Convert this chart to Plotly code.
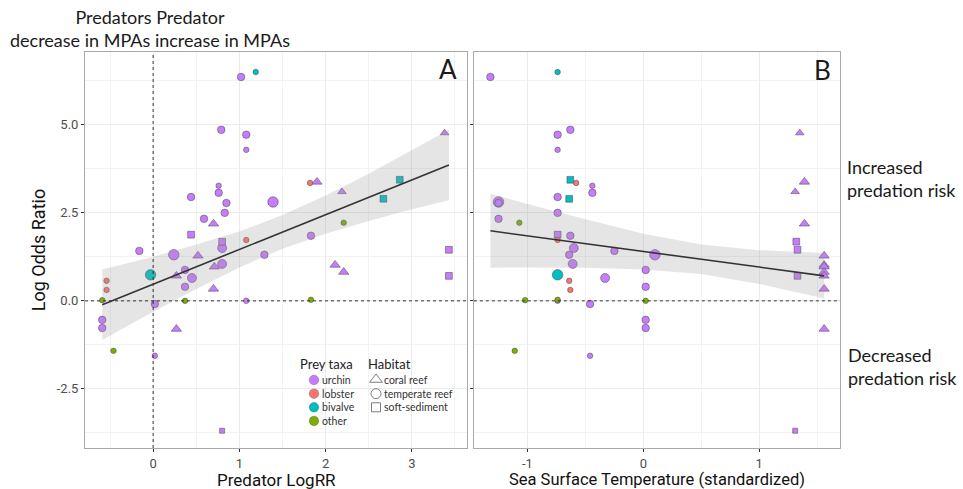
import plotly.graph_objects as go

# ---------------- data ----------------
pred_logrr = [1.02, 1.19, 0.79, 1.08, 1.08, 0.76, 0.76, 0.44, 0.85, 1.39, 0.83, 0.59,
              1.82, 2.21, 1.83, 1.08, 0.80, -0.16, 0.24, 1.29, 0.80, 0.37, 0.45, -0.03,
              -0.54, -0.54, 0.37, -0.59, 0.02, 0.37, 1.08, 1.83, -0.59, -0.59, -0.46, 0.02,
              3.38, 1.90, 2.19, 0.70, 0.52, 2.11, 0.71, 2.21, 0.27, 0.70, 0.27,
              0.44, 0.80, 3.43, 3.43, 0.80, 2.86, 2.67]
sst_std = [-1.32, -0.74, -0.63, -0.74, -0.74, -0.44, -0.44, -0.74, -1.25, -1.25, -0.74, -1.25,
           -0.58, -1.07, -0.63, -0.74, -0.60, -0.25, 0.10, -0.64, -0.61, 0.02, -0.33, -0.74,
           -0.64, -0.63, 0.02, -1.02, -0.46, 0.02, -0.74, -0.74, 0.02, 0.02, -1.11, -0.46,
           1.35, 1.39, 1.31, 1.39, 1.56, 1.56, 1.56, 1.56, 1.56, 1.56, 1.56,
           -0.74, 1.32, 1.33, 1.33, 1.31, -0.63, -0.64]
log_odds = [6.36, 6.50, 4.86, 4.72, 4.29, 3.27, 3.07, 2.95, 2.78, 2.81, 2.50, 2.33,
            3.35, 2.22, 1.85, 1.73, 1.50, 1.42, 1.31, 1.31, 1.05, 0.88, 0.65, 0.74,
            0.57, 0.31, 0.40, 0.02, -0.09, 0.00, 0.00, 0.03, -0.54, -0.77, -1.42, -1.56,
            4.77, 3.38, 3.10, 2.19, 1.28, 1.02, 0.97, 0.82, 0.71, 0.34, -0.80,
            1.88, 1.68, 1.45, 0.71, -3.69, 3.44, 2.90]
prey_taxa = (["urchin", "bivalve"] + ["urchin"] * 10 +
             ["lobster", "other", "urchin", "lobster"] + ["urchin"] * 7 + ["bivalve"] +
             ["lobster", "lobster", "urchin", "other", "urchin", "other", "urchin", "other",
              "urchin", "urchin", "other", "urchin"] +
             ["urchin"] * 11 +
             ["urchin"] * 5 + ["bivalve", "bivalve"])
habitat = ["temperate reef"] * 36 + ["coral reef"] * 11 + ["soft-sediment"] * 7
weight = [2, 1, 2, 2, 1, 1, 2, 2, 2, 4, 2, 2,
          1, 1, 2, 1, 3, 2, 4, 2, 3, 2, 3, 4,
          1, 1, 2, 1, 2, 1, 1, 1, 2, 2, 1, 1,
          2, 3, 2, 3, 3, 3, 3, 3, 3, 3, 3,
          2, 2, 2, 2, 1, 2, 2]

# fitted lines with 95% bands
fitA_x = [-0.59, 0.0, 0.5, 1.0, 1.5, 2.0, 2.5, 3.0, 3.43]
fitA_y = [-0.11, 0.47, 0.97, 1.46, 1.96, 2.45, 2.94, 3.44, 3.86]
fitA_lo = [-1.11, -0.31, 0.34, 0.95, 1.48, 1.91, 2.27, 2.60, 2.86]
fitA_hi = [0.89, 1.25, 1.60, 1.97, 2.44, 2.99, 3.61, 4.28, 4.86]

fitB_x = [-1.32, -1.0, -0.5, 0.0, 0.5, 1.0, 1.56]
fitB_y = [1.99, 1.85, 1.63, 1.40, 1.18, 0.96, 0.71]
fitB_lo = [0.94, 0.95, 0.94, 0.89, 0.76, 0.48, 0.07]
fitB_hi = [3.04, 2.75, 2.32, 1.91, 1.60, 1.44, 1.36]

taxa_levels = ["urchin", "lobster", "bivalve", "other"]
habitat_levels = ["coral reef", "temperate reef", "soft-sediment"]
xA_ticks = [0, 1, 2, 3]
xB_ticks = [-1, 0, 1]
xB_tick_labels = ["-1", "0", "1"]
y_ticks = [-2.5, 0.0, 2.5, 5.0]
y_tick_labels = ["-2.5", "0.0", "2.5", "5.0"]

# ---------------- styling ----------------
W, H = 963, 489
ML, MR, MT, MB = 85, 123, 52, 41
taxa_color = {"urchin": "#C77CFF", "lobster": "#F8766D", "bivalve": "#00BFC4", "other": "#7CAE00"}
hab_symbol = {"coral reef": "triangle-up", "temperate reef": "circle", "soft-sediment": "square"}
hab_scale = {"coral reef": 1.0, "temperate reef": 1.0, "soft-sediment": 0.9}
size_px = {1: 5.5, 2: 7.5, 3: 9.0, 4: 10.5}
NARROW = "Roboto, Liberation Sans, sans-serif"
HUMAN = "Lato, Open Sans, sans-serif"


def px_to_paper(px, py):
    return (px - ML) / (W - ML - MR), (H - MB - py) / (H - MT - MB)


order = sorted(range(len(log_odds)), key=lambda i: -weight[i])
colors = [taxa_color[prey_taxa[i]] for i in order]
symbols = [hab_symbol[habitat[i]] for i in order]
sizes = [size_px[weight[i]] * hab_scale[habitat[i]] for i in order]
yy = [log_odds[i] for i in order]

fig = go.Figure()
marker = dict(color=colors, symbol=symbols, size=sizes,
              line=dict(color="rgba(70,70,70,0.75)", width=0.7), opacity=1)
fig.add_trace(go.Scatter(x=[pred_logrr[i] for i in order], y=yy, mode="markers",
                         marker=marker, xaxis="x", yaxis="y", showlegend=False, hoverinfo="skip"))
fig.add_trace(go.Scatter(x=[sst_std[i] for i in order], y=yy, mode="markers",
                         marker=marker, xaxis="x2", yaxis="y2", showlegend=False, hoverinfo="skip"))

band_fill = "rgba(153,153,153,0.25)"
for fx, fy, lo, hi, xa, ya in [(fitA_x, fitA_y, fitA_lo, fitA_hi, "x", "y"),
                               (fitB_x, fitB_y, fitB_lo, fitB_hi, "x2", "y2")]:
    fig.add_trace(go.Scatter(x=fx + fx[::-1], y=hi + lo[::-1], fill="toself",
                             fillcolor=band_fill, line=dict(width=0), mode="lines",
                             xaxis=xa, yaxis=ya, showlegend=False, hoverinfo="skip"))
    fig.add_trace(go.Scatter(x=fx, y=fy, mode="lines", line=dict(color="#333333", width=1.6),
                             xaxis=xa, yaxis=ya, showlegend=False, hoverinfo="skip"))

# legend (drawn on a hidden pixel-space axis)
LEG_FS = 10.5
LEG_STEP = LEG_FS * 1.3
LEG_TOP = 380
leg_x_taxa, leg_x_hab = 314, 376
leg_rows = [LEG_TOP + k * LEG_STEP for k in range(4)]
fig.add_trace(go.Scatter(x=[leg_x_taxa] * 4, y=leg_rows, mode="markers",
                         marker=dict(color=[taxa_color[t] for t in taxa_levels], size=9.5,
                                     line=dict(color="rgba(70,70,70,0.6)", width=0.6)),
                         xaxis="x3", yaxis="y3", showlegend=False, hoverinfo="skip"))
fig.add_trace(go.Scatter(x=[leg_x_hab] * 3, y=[leg_rows[0] - 0.5, leg_rows[1], leg_rows[2]],
                         mode="markers",
                         marker=dict(color="#333333",
                                     symbol=[hab_symbol[h] + "-open" for h in habitat_levels],
                                     size=[11, 10, 9], line=dict(color="#333333", width=0.9)),
                         xaxis="x3", yaxis="y3", showlegend=False, hoverinfo="skip"))

annotations = []


def add_text(txt, px0, py0, size, xanchor="left", yanchor="middle", align="left",
             family=HUMAN, color="#1a1a1a"):
    px, py = px_to_paper(px0, py0)
    annotations.append(dict(x=px, y=py, xref="paper", yref="paper", text=txt, showarrow=False,
                            xanchor=xanchor, yanchor=yanchor, align=align,
                            font=dict(family=family, size=size, color=color)))


add_text("<br>".join(taxa_levels), leg_x_taxa + 6, LEG_TOP + 1.5 * LEG_STEP, LEG_FS, color="#333333")
add_text("<br>".join(habitat_levels), leg_x_hab + 6, LEG_TOP + 1.0 * LEG_STEP, LEG_FS, color="#333333")
add_text("Prey taxa", 298, 364, 13, color="#222222")
add_text("Habitat", 366, 364, 13, color="#222222")

add_text("Predators Predator<br>decrease in MPAs increase in MPAs", 150, 29, 18,
         xanchor="center", align="center")
add_text("A", 448, 69, 26, xanchor="center")
add_text("B", 822, 70, 26, xanchor="center")
add_text("Increased<br>predation risk", 845, 178, 18)
add_text("Decreased<br>predation risk", 846, 366, 18)

# x-axis titles
add_text("Predator LogRR", 276, 479.5, 17, xanchor="center", family=NARROW, color="#111111")
add_text("Sea Surface Temperature (standardized)", 657, 479.5, 16.5, xanchor="center",
         family=NARROW, color="#111111")

# reference dashed lines
shapes = [
    dict(type="line", xref="x", yref="y domain", x0=0, x1=0, y0=0, y1=1,
         line=dict(color="#333333", width=1, dash="3px,3px")),
    dict(type="line", xref="x domain", yref="y", x0=0, x1=1, y0=0, y1=0,
         line=dict(color="#333333", width=1, dash="3px,3px")),
    dict(type="line", xref="x2 domain", yref="y2", x0=0, x1=1, y0=0, y1=0,
         line=dict(color="#333333", width=1, dash="3px,3px")),
]

tickfont = dict(family=NARROW, size=13, color="#4D4D4D")
titlefont = dict(family=NARROW, size=18, color="#111111")
common = dict(showline=True, mirror=True, linecolor="#AAAAAA", linewidth=1,
              ticks="outside", ticklen=3, tickcolor="#333333", tickwidth=1,
              showgrid=True, gridcolor="#EBEBEB", gridwidth=1, zeroline=False,
              tickfont=tickfont, automargin=False)
minor_x = dict(showgrid=True, gridcolor="#F2F2F2", gridwidth=0.8, ticks="")

fig.update_layout(
    width=W, height=H, margin=dict(l=ML, r=MR, t=MT, b=MB),
    paper_bgcolor="white", plot_bgcolor="rgba(0,0,0,0)",
    annotations=annotations, shapes=shapes,
    xaxis=dict(domain=[0, 0.506], range=[-0.79, 3.64], tickvals=xA_ticks,
               ticktext=[str(v) for v in xA_ticks],
               minor=dict(tickvals=[-0.5, 0.5, 1.5, 2.5, 3.5], **minor_x),
               anchor="y", **common),
    xaxis2=dict(domain=[0.515, 1], range=[-1.463, 1.697], tickvals=xB_ticks,
                ticktext=xB_tick_labels,
                minor=dict(tickvals=[-0.5, 0.5, 1.5], **minor_x),
                anchor="y2", **common),
    yaxis=dict(domain=[0, 1], range=[-4.18, 7.07], tickvals=y_ticks, ticktext=y_tick_labels,
               minor=dict(tickvals=[-3.75, -1.25, 1.25, 3.75, 6.25], **minor_x),
               title=dict(text="Log Odds Ratio", font=titlefont, standoff=6), anchor="x", **common),
    yaxis2=dict(domain=[0, 1], range=[-4.18, 7.07], tickvals=y_ticks, showticklabels=False,
                minor=dict(tickvals=[-3.75, -1.25, 1.25, 3.75, 6.25], **minor_x),
                anchor="x2", **common),
    xaxis3=dict(domain=[0, 1], range=[ML, W - MR], visible=False, anchor="y3"),
    yaxis3=dict(domain=[0, 1], range=[H - MB, MT], visible=False, anchor="x3"),
)

fig.write_html("out.html")
